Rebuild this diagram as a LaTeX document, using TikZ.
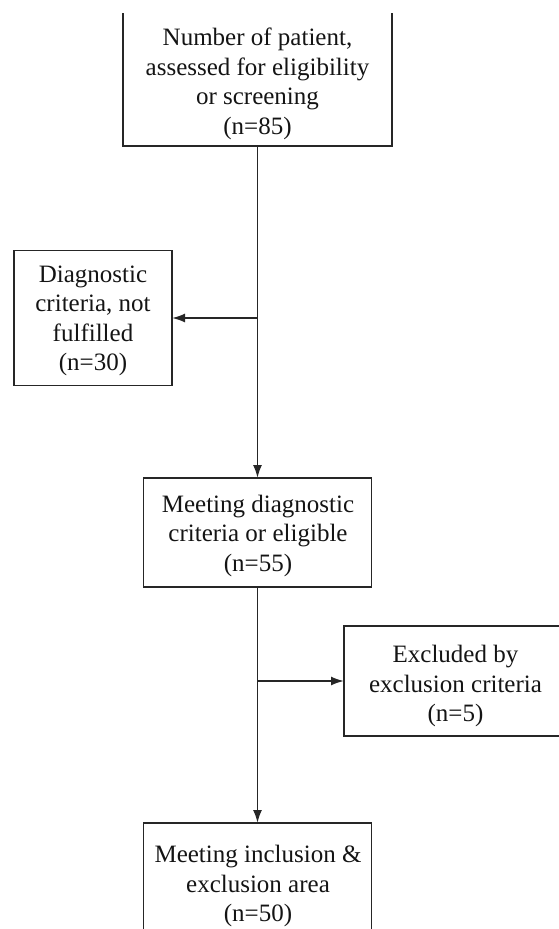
\documentclass[tikz,border=0pt]{standalone}
\usepackage{fontspec}
\setmainfont{Liberation Serif}
\usetikzlibrary{arrows.meta}
\begin{document}
\begin{tikzpicture}[x=1pt,y=-1pt,
  boxarea/.style={inner sep=0pt,outer sep=0pt},
  boxtext/.style={inner sep=0pt,align=center,font=\fontsize{25}{29.5}\selectfont,text=black!92},
  frame/.style={line width=1.8pt,draw=black!85},
  flowarrow/.style={line width=1.8pt,draw=black!85,-{Latex[length=13pt,width=9pt]}}]
\useasboundingbox (0,0) rectangle (559,929);
\clip (0,0) rectangle (559,929);
% boxes (as named nodes with exact extents)
\node[boxarea,minimum width=269pt,minimum height=133pt] (top) at (257.5,79.5) {};
\node[boxarea,minimum width=158pt,minimum height=135pt] (diag) at (93,318) {};
\node[boxarea,minimum width=228pt,minimum height=109pt] (mid) at (257.5,532.5) {};
\node[boxarea,minimum width=223pt,minimum height=110pt] (excl) at (455.5,681) {};
\node[boxarea,minimum width=228pt,minimum height=116pt] (bot) at (257.5,881) {};
% texts
\node[boxtext] (toptext) at (257.5,84) {Number of patient,\\assessed for eligibility\\or screening\\(n=85)};
\node[boxtext] (diagtext) at (93,321) {Diagnostic\\criteria, not\\fulfilled\\(n=30)};
\node[boxtext] (midtext) at (258,535.5) {Meeting diagnostic\\criteria or eligible\\(n=55)};
\node[boxtext] (excltext) at (455.5,686) {Excluded by\\exclusion criteria\\(n=5)};
\node[boxtext] (bottext) at (258,886) {Meeting inclusion \&\\exclusion area\\(n=50)};
% frames
\draw[frame] (top.north west) -- (top.south west) -- (top.south east) -- (top.north east);
\draw[frame] (diag.north west) rectangle (diag.south east);
\draw[frame] (mid.north west) rectangle (mid.south east);
\draw[frame] (excl.north east) -- (excl.north west) -- (excl.south west) -- (excl.south east);
\draw[frame] (bot.south west) -- (bot.north west) -- (bot.north east) -- (bot.south east);
% connectors
\coordinate (b1) at (top.south |- diag.east);
\coordinate (b2) at (mid.south |- excl.west);
\draw[flowarrow] (top.south) -- (mid.north);
\draw[flowarrow] (b1) -- (diag.east);
\draw[flowarrow] (mid.south) -- (bot.north);
\draw[flowarrow] (b2) -- (excl.west);
\end{tikzpicture}
\end{document}
